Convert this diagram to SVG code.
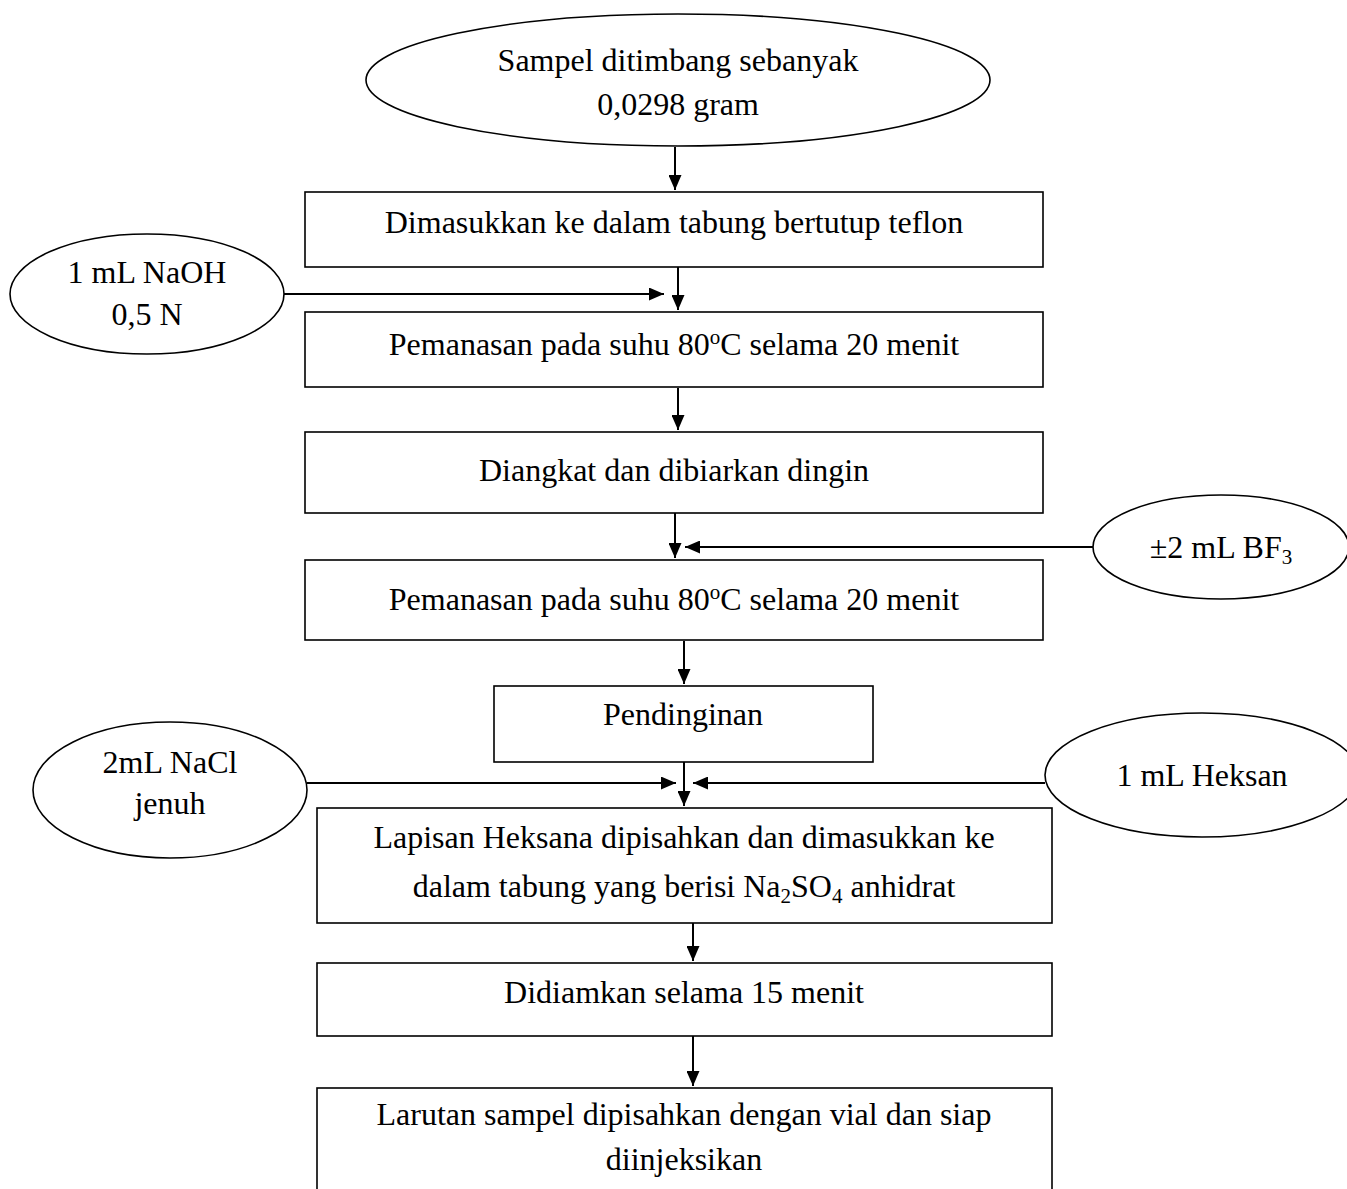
<svg xmlns="http://www.w3.org/2000/svg" width="1347" height="1189" viewBox="0 0 1347 1189">
<style>
.n{fill:#fff;stroke:#000;stroke-width:1.6}
.t{font-family:"Liberation Serif","Times New Roman",serif;font-size:32px;fill:#000;text-anchor:middle}
.c{stroke:#000;stroke-width:2;fill:none;marker-end:url(#a)}
.sup{font-size:21px}
.sub{font-size:21px}
</style>
<defs>
<marker id="a" viewBox="0 0 15 13" refX="15" refY="6.5" markerWidth="15" markerHeight="13" markerUnits="userSpaceOnUse" orient="auto">
<path d="M0,0 L15,6.5 L0,13 Z" fill="#000"/>
</marker>
</defs>
<rect width="1347" height="1189" fill="#fff"/>
<g id="connectors">
<line class="c" x1="675" y1="147" x2="675" y2="190"/>
<line class="c" x1="678" y1="267" x2="678" y2="310"/>
<line class="c" x1="284" y1="294" x2="664" y2="294"/>
<line class="c" x1="678" y1="388" x2="678" y2="430"/>
<line class="c" x1="675" y1="513" x2="675" y2="558"/>
<line class="c" x1="1093" y1="547" x2="685" y2="547"/>
<line class="c" x1="684" y1="641" x2="684" y2="684"/>
<line class="c" x1="684" y1="762" x2="684" y2="806"/>
<line class="c" x1="307" y1="783" x2="676" y2="783"/>
<line class="c" x1="1045" y1="783" x2="693" y2="783"/>
<line class="c" x1="693" y1="923" x2="693" y2="961"/>
<line class="c" x1="693" y1="1036" x2="693" y2="1086"/>
</g>
<g id="n0">
<ellipse class="n" cx="678" cy="80" rx="312" ry="66"/>
<text class="t" x="678" y="71">Sampel ditimbang sebanyak</text>
<text class="t" x="678" y="115">0,0298 gram</text>
</g>
<g id="n1">
<rect class="n" x="305" y="192" width="738" height="75"/>
<text class="t" x="674" y="233">Dimasukkan ke dalam tabung bertutup teflon</text>
</g>
<g id="naoh">
<ellipse class="n" cx="147" cy="294" rx="137" ry="60"/>
<text class="t" x="147" y="283">1 mL NaOH</text>
<text class="t" x="147" y="325">0,5 N</text>
</g>
<g id="n2">
<rect class="n" x="305" y="312" width="738" height="75"/>
<text class="t" x="674" y="355">Pemanasan pada suhu 80<tspan class="sup" dy="-11">o</tspan><tspan dy="11">C selama 20 menit</tspan></text>
</g>
<g id="n3">
<rect class="n" x="305" y="432" width="738" height="81"/>
<text class="t" x="674" y="481">Diangkat dan dibiarkan dingin</text>
</g>
<g id="bf3">
<ellipse class="n" cx="1221" cy="547" rx="128" ry="52"/>
<text class="t" x="1221" y="558">±2 mL BF<tspan class="sub" dy="6">3</tspan></text>
</g>
<g id="n4">
<rect class="n" x="305" y="560" width="738" height="80"/>
<text class="t" x="674" y="610">Pemanasan pada suhu 80<tspan class="sup" dy="-11">o</tspan><tspan dy="11">C selama 20 menit</tspan></text>
</g>
<g id="n5">
<rect class="n" x="494" y="686" width="379" height="76"/>
<text class="t" x="683" y="725">Pendinginan</text>
</g>
<g id="nacl">
<ellipse class="n" cx="170" cy="790" rx="137" ry="68"/>
<text class="t" x="170" y="773">2mL NaCl</text>
<text class="t" x="170" y="814">jenuh</text>
</g>
<g id="heksan">
<ellipse class="n" cx="1202" cy="775" rx="157" ry="62"/>
<text class="t" x="1202" y="786">1 mL Heksan</text>
</g>
<g id="n6">
<rect class="n" x="317" y="808" width="735" height="115"/>
<text class="t" x="684" y="848">Lapisan Heksana dipisahkan dan dimasukkan ke</text>
<text class="t" x="684" y="897">dalam tabung yang berisi Na<tspan class="sub" dy="6">2</tspan><tspan dy="-6">SO</tspan><tspan class="sub" dy="6">4</tspan><tspan dy="-6"> anhidrat</tspan></text>
</g>
<g id="n7">
<rect class="n" x="317" y="963" width="735" height="73"/>
<text class="t" x="684" y="1003">Didiamkan selama 15 menit</text>
</g>
<g id="n8">
<rect class="n" x="317" y="1088" width="735" height="120"/>
<text class="t" x="684" y="1125">Larutan sampel dipisahkan dengan vial dan siap</text>
<text class="t" x="684" y="1170">diinjeksikan</text>
</g>
</svg>
